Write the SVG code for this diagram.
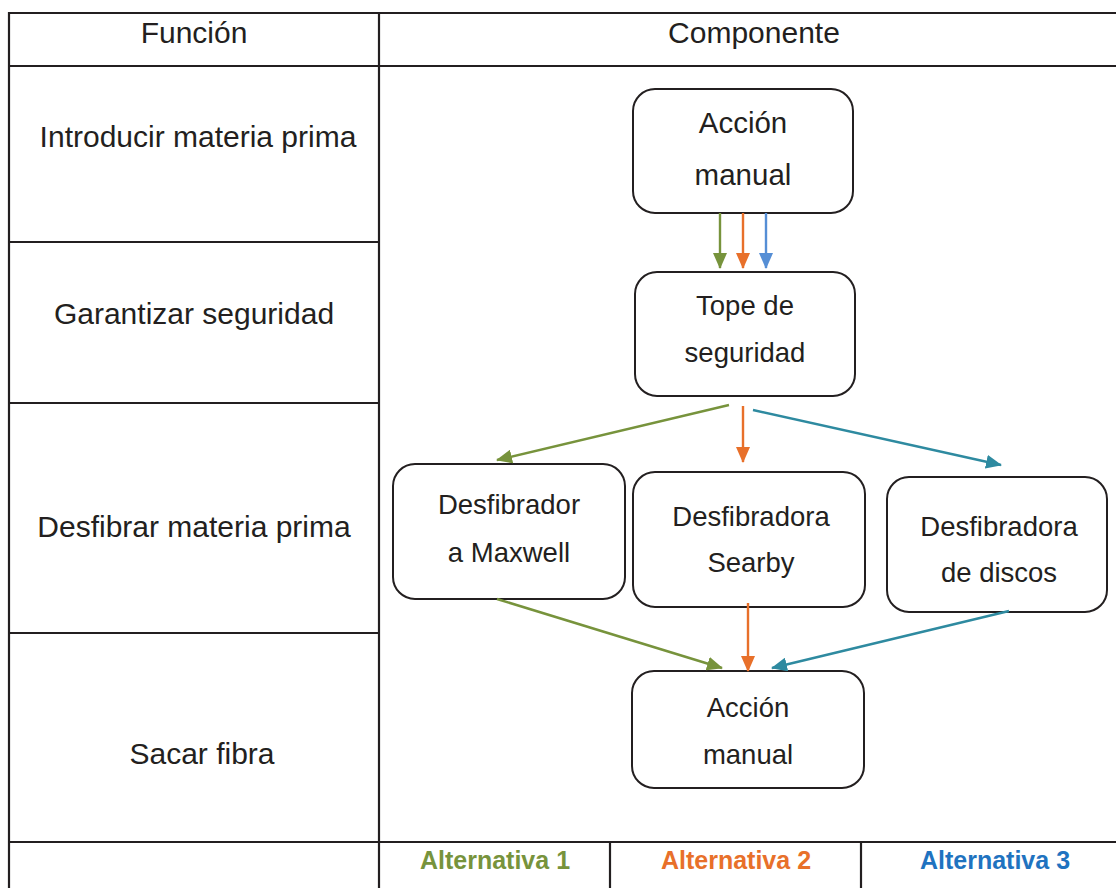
<svg xmlns="http://www.w3.org/2000/svg" width="1116" height="888" viewBox="0 0 1116 888">
  <style>
    .grid { stroke: #231f20; stroke-width: 2.2; fill: none; }
    .node rect { fill: #ffffff; stroke: #231f20; stroke-width: 2; }
    text { font-family: "Liberation Sans", Arial, sans-serif; fill: #231f20; text-anchor: middle; }
    .hd { font-size: 30px; }
    .fn { font-size: 30px; }
    .lg { font-size: 29.5px; }
    .sm { font-size: 27.5px; }
    .alt { font-size: 25px; font-weight: bold; }
    .c-green { stroke: #77933c; }
    .c-orange { stroke: #e8702a; }
    .c-blue { stroke: #558ed5; }
    .c-teal { stroke: #2e8aa0; }
    #connectors line { stroke-width: 2.4; fill: none; }
  </style>
  <defs>
    <marker id="ah-green" viewBox="0 0 16 14" refX="15" refY="7" markerUnits="userSpaceOnUse" markerWidth="16" markerHeight="14" orient="auto">
      <path d="M0,0 L16,7 L0,14 Z" fill="#77933c"/>
    </marker>
    <marker id="ah-orange" viewBox="0 0 16 14" refX="15" refY="7" markerUnits="userSpaceOnUse" markerWidth="16" markerHeight="14" orient="auto">
      <path d="M0,0 L16,7 L0,14 Z" fill="#e8702a"/>
    </marker>
    <marker id="ah-blue" viewBox="0 0 16 14" refX="15" refY="7" markerUnits="userSpaceOnUse" markerWidth="16" markerHeight="14" orient="auto">
      <path d="M0,0 L16,7 L0,14 Z" fill="#558ed5"/>
    </marker>
    <marker id="ah-teal" viewBox="0 0 16 14" refX="15" refY="7" markerUnits="userSpaceOnUse" markerWidth="16" markerHeight="14" orient="auto">
      <path d="M0,0 L16,7 L0,14 Z" fill="#2e8aa0"/>
    </marker>
  </defs>

  <rect x="0" y="0" width="1116" height="888" fill="#ffffff"/>

  <!-- table grid -->
  <g id="table">
    <line class="grid" x1="9" y1="13" x2="1116" y2="13"/>
    <line class="grid" x1="9" y1="66" x2="1116" y2="66"/>
    <line class="grid" x1="9" y1="842" x2="1116" y2="842"/>
    <line class="grid" x1="9" y1="242" x2="379" y2="242"/>
    <line class="grid" x1="9" y1="403" x2="379" y2="403"/>
    <line class="grid" x1="9" y1="633" x2="379" y2="633"/>
    <line class="grid" x1="9" y1="12" x2="9" y2="888"/>
    <line class="grid" x1="379" y1="12" x2="379" y2="888"/>
    <line class="grid" x1="610" y1="842" x2="610" y2="888"/>
    <line class="grid" x1="861" y1="842" x2="861" y2="888"/>
  </g>

  <!-- headers and function labels -->
  <g id="headers">
    <text class="hd" x="194" y="43">Función</text>
    <text class="hd" x="754" y="43">Componente</text>
    <text class="fn" x="198" y="147">Introducir materia prima</text>
    <text class="fn" x="194" y="324">Garantizar seguridad</text>
    <text class="fn" x="194" y="537">Desfibrar materia prima</text>
    <text class="fn" x="202" y="764">Sacar fibra</text>
  </g>

  <!-- alternative legend -->
  <g id="legend">
    <text class="alt" x="495" y="869" style="fill:#77933c">Alternativa 1</text>
    <text class="alt" x="736" y="869" style="fill:#e8702a">Alternativa 2</text>
    <text class="alt" x="995" y="869" style="fill:#1f73c0">Alternativa 3</text>
  </g>

  <!-- nodes -->
  <g id="accion-manual-1" class="node">
    <rect x="633" y="89" width="220" height="124" rx="22"/>
    <text class="lg" x="743" y="133">Acción</text>
    <text class="lg" x="743" y="185">manual</text>
  </g>
  <g id="tope-seguridad" class="node">
    <rect x="635" y="272" width="220" height="124" rx="22"/>
    <text class="sm" x="745" y="315">Tope de</text>
    <text class="sm" x="745" y="362">seguridad</text>
  </g>
  <g id="desfibrador-maxwell" class="node">
    <rect x="393" y="464" width="232" height="135" rx="22"/>
    <text class="sm" x="509" y="514">Desfibrador</text>
    <text class="sm" x="509" y="562">a Maxwell</text>
  </g>
  <g id="desfibradora-searby" class="node">
    <rect x="633" y="472" width="232" height="135" rx="22"/>
    <text class="sm" x="751" y="526">Desfibradora</text>
    <text class="sm" x="751" y="572">Searby</text>
  </g>
  <g id="desfibradora-discos" class="node">
    <rect x="887" y="477" width="220" height="135" rx="22"/>
    <text class="sm" x="999" y="536">Desfibradora</text>
    <text class="sm" x="999" y="582">de discos</text>
  </g>
  <g id="accion-manual-2" class="node">
    <rect x="632" y="671" width="232" height="117" rx="22"/>
    <text class="sm" x="748" y="717">Acción</text>
    <text class="sm" x="748" y="764">manual</text>
  </g>

  <!-- connectors -->
  <g id="connectors">
    <line class="c-green" x1="720" y1="213" x2="720" y2="268" marker-end="url(#ah-green)"/>
    <line class="c-orange" x1="743" y1="213" x2="743" y2="268" marker-end="url(#ah-orange)"/>
    <line class="c-blue" x1="766" y1="213" x2="766" y2="268" marker-end="url(#ah-blue)"/>

    <line class="c-green" x1="729" y1="405" x2="497" y2="460" marker-end="url(#ah-green)"/>
    <line class="c-orange" x1="743" y1="406" x2="743" y2="462" marker-end="url(#ah-orange)"/>
    <line class="c-teal" x1="753" y1="410" x2="1001" y2="465" marker-end="url(#ah-teal)"/>

    <line class="c-green" x1="497" y1="599" x2="722" y2="668" marker-end="url(#ah-green)"/>
    <line class="c-orange" x1="748" y1="603" x2="748" y2="671" marker-end="url(#ah-orange)"/>
    <line class="c-teal" x1="1009" y1="611" x2="772" y2="668" marker-end="url(#ah-teal)"/>
  </g>
</svg>
